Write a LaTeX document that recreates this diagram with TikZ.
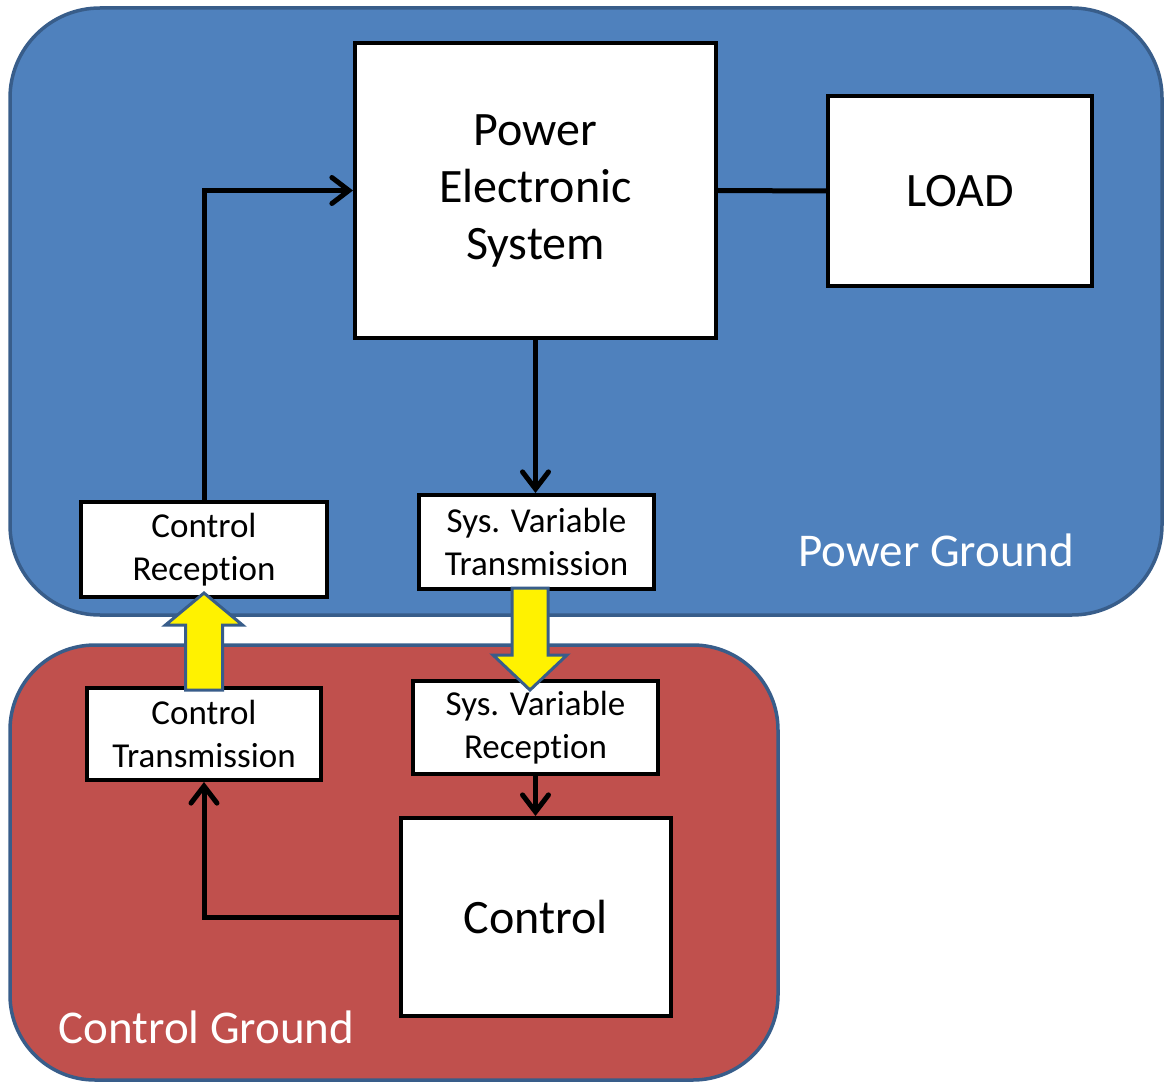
\documentclass[tikz,border=0pt]{standalone}
\usepackage{fontspec}
\setmainfont{Carlito}[Ligatures={NoCommon}]
\usetikzlibrary{arrows.meta,positioning,calc}

\definecolor{pwrblue}{HTML}{4F81BD}
\definecolor{ctlred}{HTML}{C0504D}
\definecolor{edgeblue}{HTML}{385D8A}

\begin{document}
\begin{tikzpicture}[x=1pt, y=-1pt,
		ground/.style={draw=edgeblue, line width=3.5pt},
		box/.style={draw, fill=white, line width=4pt, inner sep=0pt, align=center},
		big/.style={font=\fontsize{48}{57}\selectfont},
		small/.style={font=\fontsize{35}{43}\selectfont},
		conn/.style={line width=5pt, -{Straight Barb[length=17pt, width=26pt, line cap=round]}},
		yarrow/.style={draw=edgeblue, fill=yellow, line width=3pt, line join=miter}]
	\useasboundingbox (0,0) rectangle (1164,1083);
	% ground areas
	\draw[ground, fill=pwrblue, rounded corners=90pt] (10,8) rectangle (1162,615);
	\draw[ground, fill=ctlred, rounded corners=85pt] (10,645) rectangle (778,1080);
	\node[font=\fontsize{47}{56}\selectfont, text=white, anchor=west] (pg) at (795,550) {Power Ground};
	\node[font=\fontsize{47}{56}\selectfont, text=white, anchor=west] (cg) at (55,1027) {Control Ground};
	% blocks
	\node[box, big, minimum width=361pt, minimum height=295pt] (pes) at (535.5,190.5) {Power\\Electronic\\System};
	\node[box, big, minimum width=264pt, minimum height=190pt] (load) at (960,191) {LOAD};
	\node[box, small, minimum width=246pt, minimum height=95pt] (crx) at (204,549.5) {Control\\Reception};
	\node[box, small, minimum width=235pt, minimum height=94pt] (svt) at (536.5,542) {Sys. Variable\\Transmission};
	\node[box, small, minimum width=234pt, minimum height=92pt] (ctx) at (204,734) {Control\\Transmission};
	\node[box, small, minimum width=245pt, minimum height=93pt] (svr) at (535.5,727.5) {Sys. Variable\\Reception};
	\node[box, big, minimum width=270pt, minimum height=198pt] (ctrl) at (536,917) {Control};
	% signal paths
	\draw[line width=5pt] (pes.east) -- (load.west);
	\draw[conn] (crx.north) |- (pes.west);
	\draw[conn] (pes.south) -- (pes.south |- svt.north);
	\draw[conn] (svr.south) -- (svr.south |- ctrl.north);
	\draw[conn] (ctrl.west) -| (ctx.south);
	% isolation crossings
	\draw[yarrow] ([xshift=-18.5pt, yshift=-4pt]ctx.north) -- ++(0,-65) -- ++(-20,0)
		-- ++(38.5,-32) -- ++(38.5,32) -- ++(-20,0) -- ++(0,65) -- cycle;
	\draw[yarrow] ([xshift=-24.5pt, yshift=3pt]svt.south) -- ++(0,67) -- ++(-19,0)
		-- ++(37,35) -- ++(37,-35) -- ++(-19,0) -- ++(0,-67) -- cycle;
\end{tikzpicture}
\end{document}
